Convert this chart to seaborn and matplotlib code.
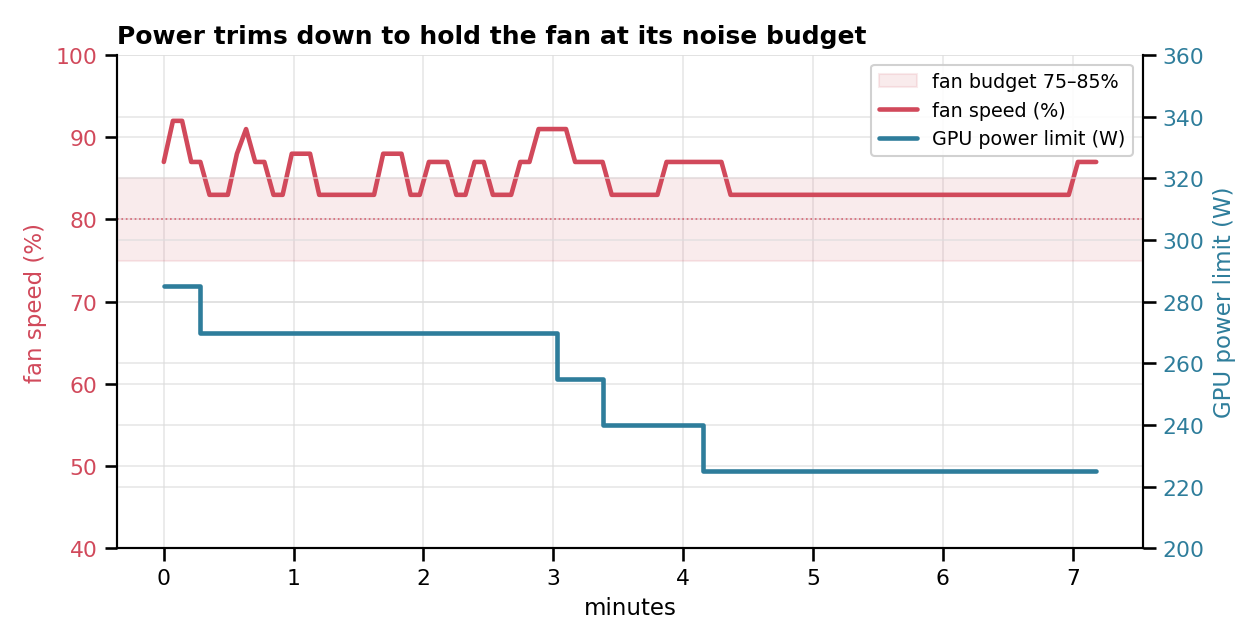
# fan speed vs GPU power limit, twin y axes
import matplotlib
matplotlib.use("Agg")
import matplotlib.pyplot as plt
import seaborn as sns
import numpy as np
import pandas as pd

# samples are ~4.2 s apart, expressed in minutes
minutes = np.arange(103) * 0.0704

fan_pct = [87, 92, 92, 87, 87, 83, 83, 83, 88, 91,
           87, 87, 83, 83, 88, 88, 88, 83, 83, 83,
           83, 83, 83, 83, 88, 88, 88, 83, 83, 87,
           87, 87, 83, 83, 87, 87, 83, 83, 83, 87,
           87, 91, 91, 91, 91, 87, 87, 87, 87, 83,
           83, 83, 83, 83, 83, 87, 87, 87, 87, 87,
           87, 87] + [83] * 38 + [87, 87, 87]

# power limit held for a number of samples each
power_levels = [285, 270, 255, 240, 225]
power_samples = [4, 39, 5, 11, 44]
power_w = np.repeat(power_levels, power_samples)

budget_low, budget_high, budget_mid = 75, 85, 80

RED = "#d1495b"
BLUE = "#2e7d9b"

df = pd.DataFrame({"minutes": minutes, "fan": fan_pct, "power": power_w})

sns.set_theme(style="ticks")
plt.rcParams["font.family"] = ["DejaVu Sans"]
plt.rcParams.update({"text.color": "black", "axes.labelcolor": "black",
                     "xtick.color": "black", "ytick.color": "black"})

fig, ax = plt.subplots(figsize=(8.4, 4.293), dpi=150)
fig.subplots_adjust(left=0.093, right=0.907, top=0.913, bottom=0.147)

band = ax.axhspan(budget_low, budget_high, color=RED, alpha=0.11,
                  label=f"fan budget {budget_low}\u2013{budget_high}%")
ax.axhline(budget_mid, color=RED, lw=0.8, ls=":", alpha=0.8)
sns.lineplot(data=df, x="minutes", y="fan", ax=ax, color=RED, lw=2.2,
             label="fan speed (%)", legend=False)

ax2 = ax.twinx()
sns.lineplot(data=df, x="minutes", y="power", ax=ax2, color=BLUE, lw=2.2,
             drawstyle="steps-post", label="GPU power limit (W)", legend=False)

ax.set_ylim(40, 100)
ax.set_yticks(np.arange(40, 101, 10))
ax2.set_ylim(200, 360)
ax2.set_yticks(np.arange(200, 361, 20))

for a in (ax, ax2):
    a.grid(True, color="#dddddd", lw=0.8, alpha=0.7)
    a.spines["top"].set_visible(False)
    for s in a.spines.values():
        s.set_color("black")
        s.set_linewidth(1.0)
ax.set_axisbelow(True)

ax.tick_params(axis="y", colors="black", labelcolor=RED, labelsize=10.5)
ax2.tick_params(axis="y", colors="black", labelcolor=BLUE, labelsize=10.5)
ax.tick_params(axis="x", labelsize=10.5, labelcolor="black")

ax.set_xlabel("minutes", fontsize=11, color="black")
ax.set_ylabel("fan speed (%)", color=RED, fontsize=11)
ax2.set_ylabel("GPU power limit (W)", color=BLUE, fontsize=11)
ax.set_title("Power trims down to hold the fan at its noise budget",
             loc="left", fontweight="bold", fontsize=12, color="black")

h1, l1 = ax.get_legend_handles_labels()
h2, l2 = ax2.get_legend_handles_labels()
leg = ax2.legend(h1 + h2, l1 + l2, loc="upper right", fontsize=9.2, framealpha=0.9)
for t in leg.get_texts():
    t.set_color("black")

fig.savefig("out.png", dpi=150)
